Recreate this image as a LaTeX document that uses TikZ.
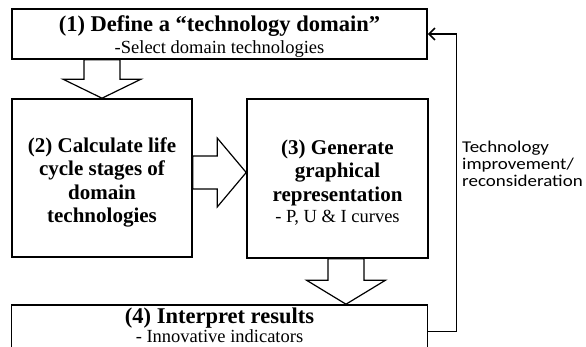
\documentclass[tikz,border=0pt]{standalone}
\usepackage{fontspec}
\setmainfont{Liberation Serif}
\newfontfamily\lblfont[FakeStretch=1.15]{Carlito}
\usetikzlibrary{calc,arrows.meta}
\newcommand{\bigbf}{\fontsize{21}{23.5}\selectfont\bfseries}
\newcommand{\hugebf}{\fontsize{22.5}{23.5}\selectfont\bfseries}
\newcommand{\subrm}{\fontsize{18.5}{22}\selectfont\mdseries}
\begin{document}
\begin{tikzpicture}[x=1pt,y=1pt,
  box/.style={draw=black,line width=1.6pt,fill=white,inner sep=0pt},
  txt/.style={align=center,inner sep=0pt,font=\bigbf},
  blk/.style={draw=black,line width=1.2pt,fill=white,line join=miter},
  fb/.style={draw=black,line width=1.6pt,-{Straight Barb[length=6pt,width=12pt,line width=1.6pt]}},
]
\useasboundingbox (0,0) rectangle (586,-346);
\clip (0,0) rectangle (586,-346);
\node[box,minimum width=415,minimum height=50] (b1) at (219.5,-34) {};
\node[box,minimum width=180,minimum height=158] (b2) at (102,-178) {};
\node[box,minimum width=181,minimum height=159] (b3) at (337.5,-178.5) {};
\node[box,minimum width=416,minimum height=60] (b4) at (219.5,-335) {};
\node[txt,font=\hugebf] (t1) at ([yshift=-2.5]b1.center)
  {(1) Define a “technology domain”\\[-1.5pt]
   \subrm -Select domain technologies};
\node[txt] (t2) at ([yshift=-4.5]b2.center)
  {(2) Calculate life\\cycle stages of\\domain\\technologies};
\node[txt] (t3) at ([yshift=-4]b3.center)
  {(3) Generate\\graphical\\representation\\[-2pt]
   \subrm - P, U \& I curves};
\node[txt,font=\hugebf,anchor=north] (t4) at (219.5,-308)
  {(4) Interpret results\\[-5pt]
   \subrm - Innovative indicators};
% block arrow 1 -> 2
\coordinate (a1s) at (b2.north |- b1.south);
\coordinate (a1t) at (b2.north);
\draw[blk] ($(a1s)+(-18,0)$) -- ($(a1s)+(18,0)$) -- ($(a1t)+(18,19)$) -- ($(a1t)+(39,19)$)
  -- (a1t) -- ($(a1t)+(-39,19)$) -- ($(a1t)+(-18,19)$) -- cycle;
% block arrow 2 -> 3
\coordinate (a2s) at ([yshift=5.5]b2.east);
\coordinate (a2t) at (a2s -| b3.west);
\draw[blk] ($(a2s)+(0,16.5)$) -- ($(a2t)+(-29,16.5)$) -- ($(a2t)+(-29,34.5)$) -- (a2t)
  -- ($(a2t)+(-29,-34.5)$) -- ($(a2t)+(-29,-16.5)$) -- ($(a2s)+(0,-16.5)$) -- cycle;
% block arrow 3 -> 4
\coordinate (a3s) at ([xshift=8.5]b3.south);
\coordinate (a3t) at (a3s |- b4.north);
\draw[blk] ($(a3s)+(-18,0)$) -- ($(a3s)+(18,0)$) -- ($(a3t)+(18,24)$) -- ($(a3t)+(39.5,24)$)
  -- (a3t) -- ($(a3t)+(-39.5,24)$) -- ($(a3t)+(-18,24)$) -- cycle;
% feedback
\coordinate (fbs) at (b4.east |- 0,-331.5);
\draw[fb] (fbs) -- ++(28,0) coordinate (fbc) |- (b1.east);
\node[anchor=base west,align=left,inner sep=0pt,font=\lblfont\fontsize{16.5}{17}\selectfont] (lbl) at (462,-186)
  {Technology\\improvement/\\reconsideration};
\end{tikzpicture}
\end{document}
